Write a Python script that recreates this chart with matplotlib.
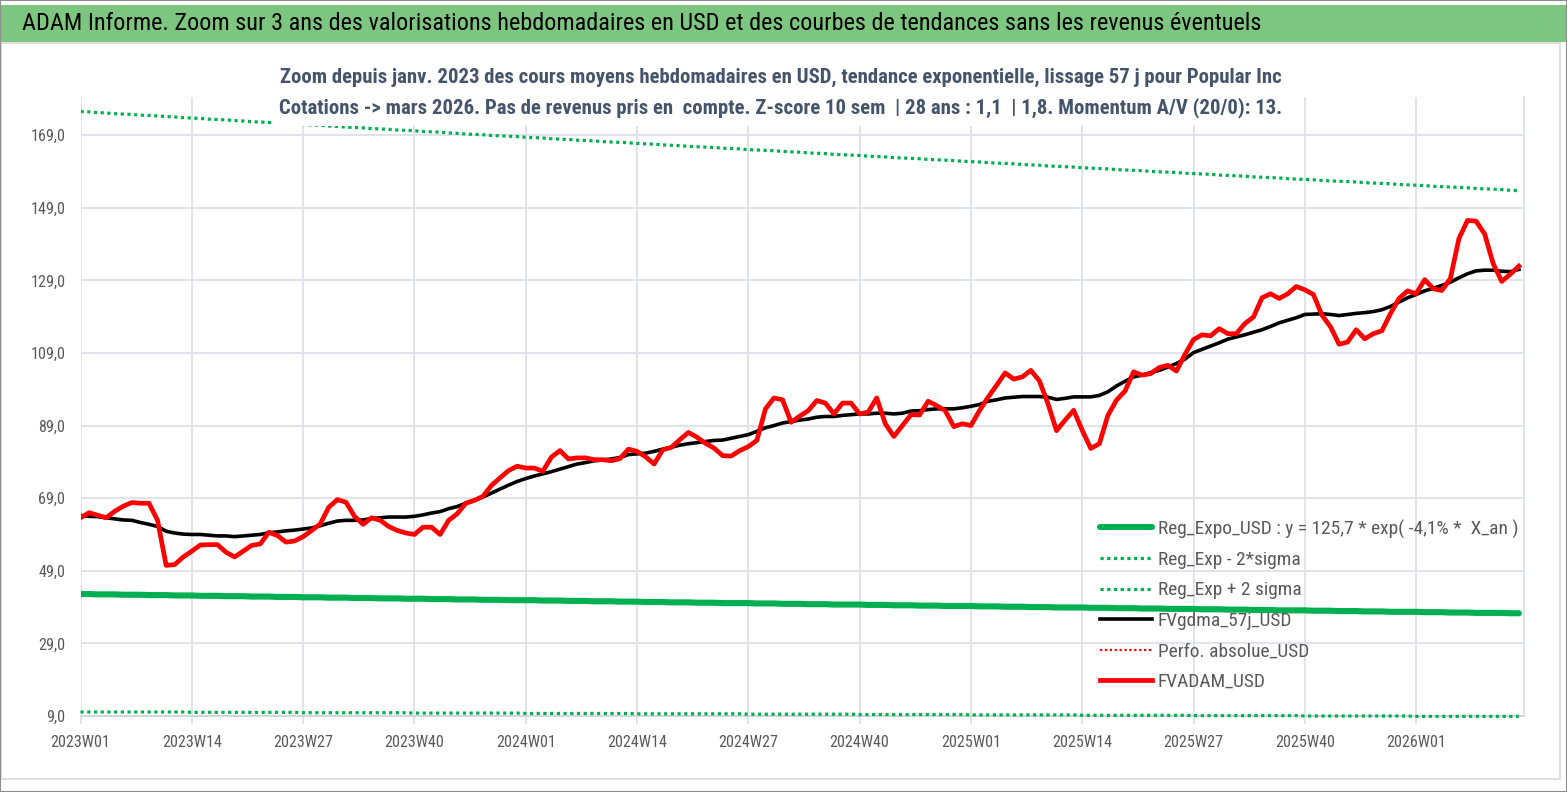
import matplotlib
matplotlib.use("Agg")
import matplotlib.pyplot as plt
import matplotlib.font_manager as fm
from matplotlib.patches import Rectangle

# pick a narrow (Calibri-like) family if one is installed
_names = {f.name for f in fm.fontManager.ttflist}
_dejavu_cond = any(f.name == "DejaVu Sans" and f.stretch in ("condensed", "semi-condensed")
                   for f in fm.fontManager.ttflist)
if "Liberation Sans Narrow" in _names:
    plt.rcParams['font.family'] = ['Liberation Sans Narrow', 'DejaVu Sans']
elif "Roboto Condensed" in _names:
    plt.rcParams['font.family'] = ['Roboto Condensed', 'DejaVu Sans']
elif _dejavu_cond:
    plt.rcParams['font.family'] = ['DejaVu Sans']
    plt.rcParams['font.stretch'] = 'condensed'
else:
    plt.rcParams['font.family'] = ['Liberation Sans', 'DejaVu Sans']

# ---------------- data ----------------
years = [2023, 2024, 2025, 2026]
weeks_per_year = [52, 52, 52, 13]
categories = [f"{y}W{w:02d}" for y, n in zip(years, weeks_per_year) for w in range(1, n + 1)]

tick_labels = ["2023W01", "2023W14", "2023W27", "2023W40", "2024W01", "2024W14", "2024W27",
               "2024W40", "2025W01", "2025W14", "2025W27", "2025W40", "2026W01"]
y_ticks = [9, 29, 49, 69, 89, 109, 129, 149, 169]

fvadam_usd = [
    63.6, 65.0, 64.3, 63.6, 65.4, 66.8, 67.8, 67.6, 67.6, 62.9, 50.5, 50.7, 52.8,
    54.4, 56.1, 56.2, 56.2, 54.1, 52.8, 54.4, 56.0, 56.4, 59.6, 58.7, 56.9, 57.2,
    58.4, 60.1, 61.9, 66.5, 68.6, 67.9, 64.0, 61.8, 63.6, 62.9, 61.2, 60.1, 59.4,
    59.0, 61.0, 61.0, 59.0, 62.9, 64.7, 67.6, 68.4, 69.5, 72.5, 74.6, 76.6, 77.8,
    77.3, 77.3, 76.4, 80.3, 82.1, 79.8, 80.1, 80.1, 79.6, 79.6, 79.3, 79.9, 82.5,
    81.9, 80.4, 78.4, 82.3, 83.0, 85.1, 87.1, 85.8, 84.1, 82.8, 80.7, 80.6, 82.1,
    83.2, 84.9, 93.6, 96.6, 96.1, 89.9, 91.6, 93.1, 95.9, 95.2, 92.2, 95.2, 95.2,
    92.2, 92.7, 96.6, 89.5, 86.0, 89.0, 92.0, 91.9, 95.7, 94.5, 93.1, 88.7, 89.5,
    89.0, 93.1, 96.8, 100.1, 103.5, 101.8, 102.4, 104.2, 101.3, 95.0, 87.6, 90.5, 93.2,
    87.7, 82.7, 84.0, 91.8, 96.0, 98.5, 103.8, 102.9, 103.3, 105.0, 105.6, 104.0, 108.6,
    112.7, 114.0, 113.7, 115.7, 114.3, 114.3, 117.1, 118.9, 124.2, 125.3, 124.0, 125.3, 127.3,
    126.4, 125.1, 119.4, 116.2, 111.4, 112.0, 115.4, 112.9, 114.3, 115.1, 119.8, 124.0, 126.1,
    125.3, 129.2, 126.7, 126.2, 129.5, 140.5, 145.5, 145.3, 141.8, 133.6, 128.7, 130.7, 132.9,
]

fvgdma_57j_usd = [
    64.2, 64.0, 63.9, 63.6, 63.3, 63.0, 62.9, 62.3, 61.8, 61.2, 59.9, 59.4, 59.1,
    59.0, 59.0, 58.8, 58.6, 58.6, 58.4, 58.6, 58.8, 59.0, 59.5, 59.7, 60.0, 60.2,
    60.5, 60.8, 61.4, 62.1, 62.7, 62.9, 62.9, 63.0, 63.4, 63.6, 63.8, 63.8, 63.8,
    64.0, 64.4, 64.9, 65.3, 66.1, 66.7, 67.6, 68.4, 69.3, 70.4, 71.5, 72.6, 73.6,
    74.4, 75.1, 75.7, 76.3, 77.0, 77.7, 78.4, 78.8, 79.3, 79.5, 79.8, 80.2, 81.0,
    81.2, 81.4, 81.9, 82.5, 83.0, 83.6, 84.0, 84.3, 84.6, 84.9, 85.0, 85.5, 86.0,
    86.5, 87.4, 88.4, 89.0, 89.7, 90.1, 90.5, 90.8, 91.3, 91.5, 91.5, 91.8, 92.0,
    92.2, 92.2, 92.4, 92.4, 92.2, 92.4, 93.0, 93.1, 93.4, 93.6, 93.6, 93.6, 93.9,
    94.3, 94.8, 95.7, 96.1, 96.6, 96.8, 97.0, 97.0, 97.0, 96.8, 96.2, 96.5, 96.9,
    96.9, 96.9, 97.3, 98.3, 99.9, 101.2, 102.4, 102.9, 103.6, 104.2, 105.1, 106.1, 107.3,
    109.1, 110.0, 110.9, 111.8, 112.8, 113.4, 114.0, 114.7, 115.4, 116.3, 117.3, 118.0, 118.7,
    119.6, 119.7, 119.8, 119.6, 119.3, 119.6, 119.9, 120.1, 120.4, 120.9, 121.8, 123.0, 124.2,
    125.1, 126.1, 126.8, 127.6, 128.5, 129.7, 130.8, 131.6, 131.8, 131.8, 131.5, 131.4, 132.0,
]

reg_expo_usd = [
    42.6, 42.6, 42.5, 42.5, 42.5, 42.4, 42.4, 42.4, 42.3, 42.3, 42.3, 42.2, 42.2,
    42.2, 42.1, 42.1, 42.1, 42.0, 42.0, 42.0, 41.9, 41.9, 41.9, 41.8, 41.8, 41.8,
    41.7, 41.7, 41.7, 41.6, 41.6, 41.6, 41.5, 41.5, 41.5, 41.4, 41.4, 41.4, 41.3,
    41.3, 41.3, 41.2, 41.2, 41.2, 41.1, 41.1, 41.1, 41.0, 41.0, 41.0, 40.9, 40.9,
    40.9, 40.9, 40.8, 40.8, 40.8, 40.7, 40.7, 40.7, 40.6, 40.6, 40.6, 40.5, 40.5,
    40.5, 40.4, 40.4, 40.4, 40.3, 40.3, 40.3, 40.2, 40.2, 40.2, 40.1, 40.1, 40.1,
    40.1, 40.0, 40.0, 40.0, 39.9, 39.9, 39.9, 39.8, 39.8, 39.8, 39.7, 39.7, 39.7,
    39.7, 39.6, 39.6, 39.6, 39.5, 39.5, 39.5, 39.4, 39.4, 39.4, 39.3, 39.3, 39.3,
    39.3, 39.2, 39.2, 39.2, 39.1, 39.1, 39.1, 39.0, 39.0, 39.0, 38.9, 38.9, 38.9,
    38.9, 38.8, 38.8, 38.8, 38.7, 38.7, 38.7, 38.6, 38.6, 38.6, 38.5, 38.5, 38.5,
    38.5, 38.4, 38.4, 38.4, 38.3, 38.3, 38.3, 38.2, 38.2, 38.2, 38.1, 38.1, 38.1,
    38.1, 38.0, 38.0, 38.0, 37.9, 37.9, 37.9, 37.8, 37.8, 37.8, 37.7, 37.7, 37.7,
    37.7, 37.6, 37.6, 37.6, 37.5, 37.5, 37.5, 37.4, 37.4, 37.4, 37.4, 37.3, 37.3,
]

reg_exp_plus_2sigma = [
    175.5, 175.4, 175.2, 175.1, 174.9, 174.8, 174.7, 174.5, 174.4, 174.3, 174.1, 174.0, 173.8,
    173.7, 173.6, 173.4, 173.3, 173.2, 173.0, 172.9, 172.7, 172.6, 172.5, 172.3, 172.2, 172.1,
    171.9, 171.8, 171.7, 171.5, 171.4, 171.2, 171.1, 171.0, 170.8, 170.7, 170.6, 170.4, 170.3,
    170.2, 170.0, 169.9, 169.8, 169.6, 169.5, 169.3, 169.2, 169.1, 168.9, 168.8, 168.7, 168.6,
    168.4, 168.3, 168.2, 168.0, 167.9, 167.8, 167.6, 167.5, 167.4, 167.2, 167.1, 167.0, 166.9,
    166.7, 166.6, 166.5, 166.3, 166.2, 166.1, 165.9, 165.8, 165.7, 165.6, 165.4, 165.3, 165.2,
    165.0, 164.9, 164.8, 164.7, 164.5, 164.4, 164.3, 164.1, 164.0, 163.9, 163.7, 163.6, 163.5,
    163.4, 163.2, 163.1, 163.0, 162.8, 162.7, 162.6, 162.5, 162.3, 162.2, 162.1, 162.0, 161.8,
    161.7, 161.6, 161.4, 161.3, 161.2, 161.1, 160.9, 160.8, 160.7, 160.5, 160.4, 160.3, 160.2,
    160.0, 159.9, 159.8, 159.7, 159.5, 159.4, 159.3, 159.2, 159.0, 158.9, 158.8, 158.7, 158.5,
    158.4, 158.3, 158.2, 158.0, 157.9, 157.8, 157.7, 157.5, 157.4, 157.3, 157.2, 157.0, 156.9,
    156.8, 156.7, 156.5, 156.4, 156.3, 156.2, 156.1, 155.9, 155.8, 155.7, 155.6, 155.4, 155.3,
    155.2, 155.1, 154.9, 154.8, 154.7, 154.6, 154.5, 154.3, 154.2, 154.1, 154.0, 153.8, 153.7,
]

reg_exp_minus_2sigma = [
    10.1, 10.1, 10.1, 10.1, 10.1, 10.1, 10.1, 10.1, 10.1, 10.1, 10.1, 10.1, 10.1,
    10.0, 10.0, 10.0, 10.0, 10.0, 10.0, 10.0, 10.0, 10.0, 10.0, 10.0, 10.0, 10.0,
    9.9, 9.9, 9.9, 9.9, 9.9, 9.9, 9.9, 9.9, 9.9, 9.9, 9.9, 9.9, 9.9,
    9.8, 9.8, 9.8, 9.8, 9.8, 9.8, 9.8, 9.8, 9.8, 9.8, 9.8, 9.8, 9.8,
    9.7, 9.7, 9.7, 9.7, 9.7, 9.7, 9.7, 9.7, 9.7, 9.7, 9.7, 9.7, 9.7,
    9.6, 9.6, 9.6, 9.6, 9.6, 9.6, 9.6, 9.6, 9.6, 9.6, 9.6, 9.6, 9.6,
    9.5, 9.5, 9.5, 9.5, 9.5, 9.5, 9.5, 9.5, 9.5, 9.5, 9.5, 9.5, 9.5,
    9.4, 9.4, 9.4, 9.4, 9.4, 9.4, 9.4, 9.4, 9.4, 9.4, 9.4, 9.4, 9.4,
    9.3, 9.3, 9.3, 9.3, 9.3, 9.3, 9.3, 9.3, 9.3, 9.3, 9.3, 9.3, 9.3,
    9.2, 9.2, 9.2, 9.2, 9.2, 9.2, 9.2, 9.2, 9.2, 9.2, 9.2, 9.2, 9.2,
    9.1, 9.1, 9.1, 9.1, 9.1, 9.1, 9.1, 9.1, 9.1, 9.1, 9.1, 9.1, 9.1,
    9.0, 9.0, 9.0, 9.0, 9.0, 9.0, 9.0, 9.0, 9.0, 9.0, 9.0, 9.0, 9.0,
    8.9, 8.9, 8.9, 8.9, 8.9, 8.9, 8.9, 8.9, 8.9, 8.9, 8.9, 8.9, 8.9,
]

perfo_absolue_usd = []  # series present in legend only

title = "ADAM Informe. Zoom sur 3 ans des valorisations hebdomadaires en USD et des courbes de tendances sans les revenus éventuels"
subtitle_1 = "Zoom depuis janv. 2023 des cours moyens hebdomadaires en USD, tendance exponentielle, lissage 57 j pour Popular Inc"
subtitle_2 = "Cotations -> mars 2026. Pas de revenus pris en  compte. Z-score 10 sem  | 28 ans : 1,1  | 1,8. Momentum A/V (20/0): 13."

# ---------------- figure ----------------
W, H = 1567, 792
fig = plt.figure(figsize=(W / 100, H / 100), dpi=100)
fig.patch.set_facecolor("white")


def fx(px):
    return px / W


def fy(py):
    return 1 - py / H


ax = fig.add_axes([fx(80.5), fy(716), fx(1524) - fx(80.5), fy(97) - fy(716)])

x = list(range(len(categories)))
GREEN = "#00B050"
GRID = "#DDE1E8"
LABEL = "#595959"

ax.plot(x, reg_expo_usd, color=GREEN, lw=4.4, solid_capstyle="round",
        label="Reg_Expo_USD : y = 125,7 * exp( -4,1% *  X_an )", zorder=3)
ax.plot(x, reg_exp_minus_2sigma, color=GREEN, lw=2.3, linestyle=(0, (1, 1.1)),
        label="Reg_Exp - 2*sigma", zorder=3, clip_on=False)
ax.plot(x, reg_exp_plus_2sigma, color=GREEN, lw=2.3, linestyle=(0, (1, 1.1)),
        label="Reg_Exp + 2 sigma", zorder=3)
ax.plot(x, fvgdma_57j_usd, color="black", lw=2.6, label="FVgdma_57j_USD", zorder=4)
ax.plot(x[:len(perfo_absolue_usd)], perfo_absolue_usd, color="#FF0000", lw=1.6,
        linestyle=(0, (1, 1.2)), label="Perfo. absolue_USD")
ax.plot(x, fvadam_usd, color="#FF0000", lw=3.4, label="FVADAM_USD", zorder=5)

ax.set_xlim(0, 168.6)
ax.set_ylim(9, 179.5)

tick_pos = [categories.index(t) for t in tick_labels]
ax.set_xticks(tick_pos)
ax.set_xticklabels(tick_labels)
ax.set_yticks(y_ticks)
ax.set_yticklabels([f"{v:.1f}".replace(".", ",") for v in y_ticks])

ax.grid(True, color=GRID, lw=1.3, zorder=0)
ax.set_axisbelow(True)
for s in ["left", "top"]:
    ax.spines[s].set_visible(False)
ax.spines["right"].set_color(GRID)
ax.spines["right"].set_linewidth(1.3)
ax.spines["bottom"].set_color("#D0D4DA")
ax.spines["bottom"].set_linewidth(1.3)

ax.tick_params(axis="y", length=0, pad=11, labelsize=12, labelcolor=LABEL)
ax.tick_params(axis="x", length=6, color=GRID, width=1.3, pad=8, labelsize=12.5, labelcolor=LABEL)

# ---------------- decorations (layout) ----------------
fig.add_artist(Rectangle((0, fy(42)), 1, fy(5) - fy(42), transform=fig.transFigure,
                         facecolor="#7DC67F", edgecolor="none", zorder=1))
t_title = fig.text(fx(22), fy(24), title, fontsize=17.5, color="black", va="center", ha="left", zorder=2)

fig.add_artist(Rectangle((fx(272), fy(126)), fx(1292) - fx(272), fy(58) - fy(126),
                         transform=fig.transFigure, facecolor="white", edgecolor="none", zorder=5))
t_sub1 = fig.text(fx(781), fy(77), subtitle_1, fontsize=15, fontweight="bold", color="#44546A",
                  ha="center", va="center", zorder=6)
t_sub2 = fig.text(fx(781), fy(108), subtitle_2, fontsize=15, fontweight="bold", color="#44546A",
                  ha="center", va="center", zorder=6)

fig.add_artist(Rectangle((fx(1), fy(779)), fx(1560) - fx(1), fy(43) - fy(779), transform=fig.transFigure,
                         facecolor="none", edgecolor="#D9D9D9", lw=1.2, zorder=1))
fig.add_artist(Rectangle((0, 0), 1, 1, transform=fig.transFigure,
                         facecolor="none", edgecolor="#8C8C8C", lw=1.5, zorder=7))

# ---------------- fit text sizes to the reference widths ----------------
fig.canvas.draw()
R = fig.canvas.get_renderer()


def fit(t, target):
    w = t.get_window_extent(R).width
    t.set_fontsize(t.get_fontsize() * target / w)


fit(t_title, 1238)
fit(t_sub1, 1003)
t_sub2.set_fontsize(t_sub1.get_fontsize())

xl = ax.get_xticklabels()[0]
xs = 12.5 * 60 / xl.get_window_extent(R).width
ax.tick_params(axis="x", labelsize=xs)
ax.tick_params(axis="y", labelsize=xs)

# legend: fit the longest label to 362 px, rows every ~30.6 px starting at y=529
leg_fs = 13.5
leg_ls = 0.62
anchor_top = 510
left_px = 1158
for _ in range(3):
    leg = ax.legend(loc="upper left", bbox_to_anchor=(fx(1103), fy(anchor_top)),
                    bbox_transform=fig.transFigure, frameon=False, fontsize=leg_fs,
                    labelcolor=LABEL, handlelength=2.7, handletextpad=0.3,
                    labelspacing=leg_ls, borderpad=0.2)
    fig.canvas.draw()
    texts = leg.get_texts()
    w0 = texts[0].get_window_extent(R).width
    leg_fs = leg_fs * 362 / w0
    ext = [tt.get_window_extent(R) for tt in texts]
    centers = [H - (e.y0 + e.y1) / 2 for e in ext]
    pitch = (centers[-1] - centers[0]) / (len(centers) - 1)
    leg_ls = leg_ls + (30.6 - pitch) / (leg_fs * 100 / 72)
    anchor_top = anchor_top + (529 - centers[0])
    left_px = ext[0].x0
leg = ax.legend(loc="upper left", bbox_to_anchor=(fx(1103 + 1158 - left_px), fy(anchor_top)),
                bbox_transform=fig.transFigure, frameon=False, fontsize=leg_fs,
                labelcolor=LABEL, handlelength=2.7, handletextpad=0.3,
                labelspacing=leg_ls, borderpad=0.2)

fig.savefig("out.png", dpi=100, facecolor="white")
